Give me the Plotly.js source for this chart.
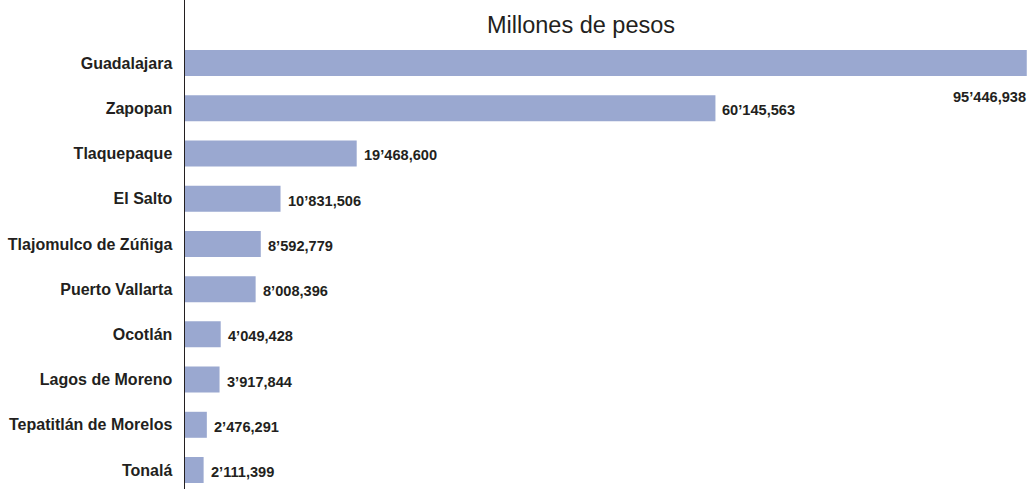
<!DOCTYPE html>
<html>
<head>
<meta charset="utf-8">
<script src="https://cdn.plot.ly/plotly-3.0.1.min.js"></script>
<style>html,body{margin:0;padding:0;background:#fff;}#chart{width:1029px;height:489px;}</style>
</head>
<body>
<div id="chart"></div>
<script>
const municipios = ["Guadalajara","Zapopan","Tlaquepaque","El Salto","Tlajomulco de Zúñiga","Puerto Vallarta","Ocotlán","Lagos de Moreno","Tepatitlán de Morelos","Tonalá"];
const valores = [95446938, 60145563, 19468600, 10831506, 8592779, 8008396, 4049428, 3917844, 2476291, 2111399];
const titulo = "Millones de pesos";

function fmt(v){
  const m = Math.floor(v/1e6);
  const rest = v % 1e6;
  const th = Math.floor(rest/1000);
  const u = rest % 1000;
  return m + "’" + String(th).padStart(3,"0") + "," + String(u).padStart(3,"0");
}

const tickFont = {family:"Liberation Sans, Arial, sans-serif", size:16, color:"#231f20", weight:"bold"};
const valFont = {family:"Liberation Sans, Arial, sans-serif", size:14.6, color:"#231f20", weight:"bold"};

const annotations = municipios.map((c,i)=>{
  const first = i===0;
  return {
    x: first ? 1 : valores[i], xref: first ? "paper" : "x",
    y: c, yref: "y",
    text: fmt(valores[i]),
    showarrow:false,
    xanchor: first ? "right" : "left",
    xshift: first ? -1 : 5,
    yshift: first ? -34 : -2,
    font: valFont
  };
});

const trace = {
  type:"bar", orientation:"h",
  x: valores, y: municipios,
  marker:{color:"#9aa8d0"},
  width:0.575,
  hoverinfo:"none"
};

const layout = {
  width:1029, height:489,
  margin:{l:185, r:0, t:0, b:0, pad:0},
  paper_bgcolor:"#fff", plot_bgcolor:"#fff",
  showlegend:false,
  title:{text:titulo, x:581/1029, xanchor:"center", xref:"container", y:1-25/489, yanchor:"middle", yref:"container",
    font:{family:"Liberation Sans, Arial, sans-serif", size:23.5, color:"#231f20"}},
  xaxis:{range:[0,95.7e6], showgrid:false, zeroline:false, showticklabels:false, ticks:"", showline:false, fixedrange:true},
  yaxis:{type:"category", range:[9.42,-1.394], showgrid:false, zeroline:false, showline:true, linecolor:"#231f20", linewidth:1.5,
    ticks:"outside", ticklen:8, tickcolor:"rgba(0,0,0,0)", tickfont:tickFont, fixedrange:true},
  annotations: annotations,
  bargap:0.4
};

Plotly.newPlot("chart",[trace],layout,{displayModeBar:false, staticPlot:true});
</script>
</body>
</html>
